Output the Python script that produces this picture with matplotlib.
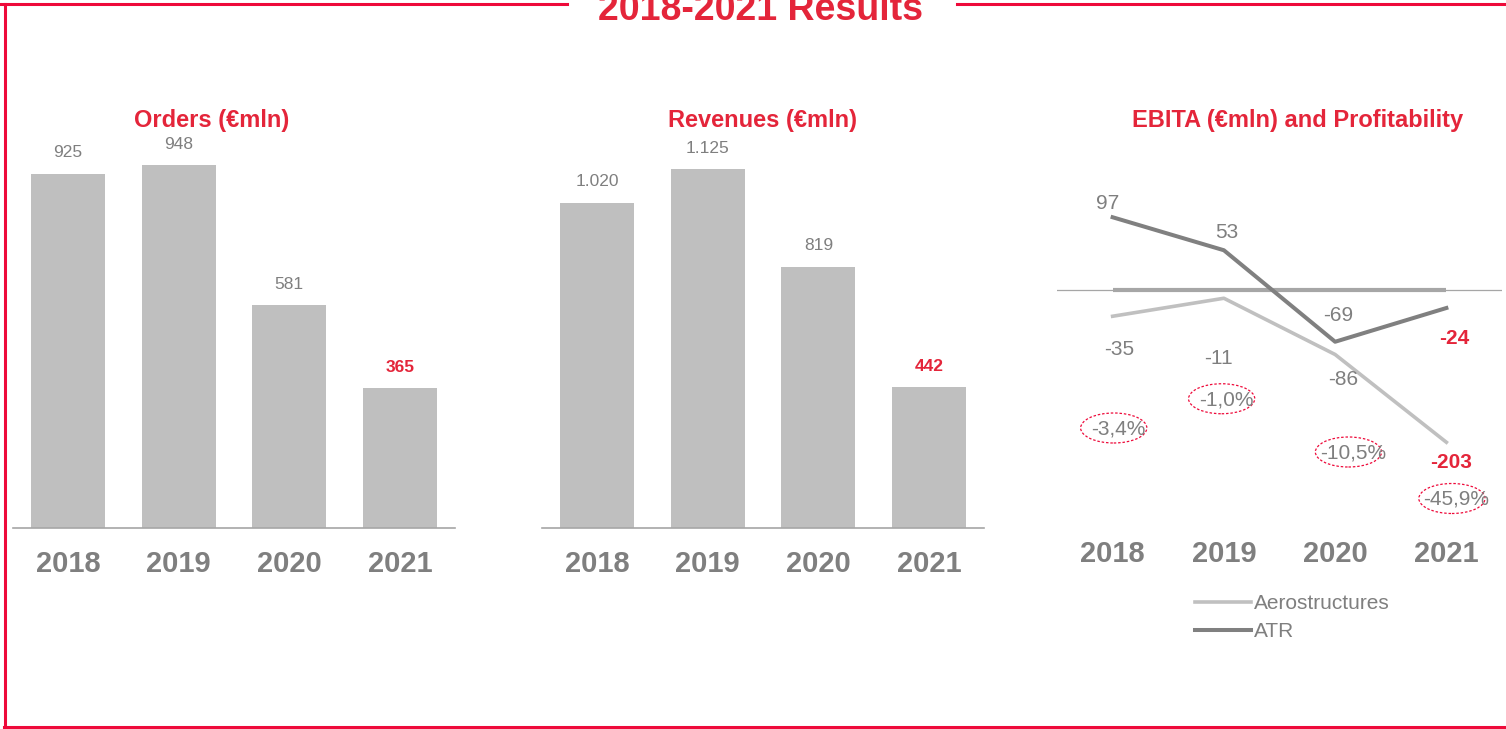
import matplotlib
matplotlib.use("Agg")
import matplotlib.pyplot as plt
from matplotlib.lines import Line2D
from matplotlib.patches import Ellipse

plt.rcParams['font.family'] = ['Liberation Sans', 'DejaVu Sans']

years = ['2018', '2019', '2020', '2021']
orders = [925, 948, 581, 365]
revenues = [1020, 1125, 819, 442]
revenue_labels = ['1.020', '1.125', '819', '442']
ebita_aero = [-35, -11, -86, -203]
ebita_atr = [97, 53, -69, -24]
profitability = ['-3,4%', '-1,0%', '-10,5%', '-45,9%']

RED = '#e4253a'
BORDER = '#ee0a3a'
GRAY_TXT = '#7f7f7f'
BAR = '#bfbfbf'

W, H = 1506, 729
fig = plt.figure(figsize=(W / 100, H / 100), dpi=100)


def box(x0, y0, x1, y1):
    # pixel box (top-left origin) -> figure rect
    return [x0 / W, 1 - y1 / H, (x1 - x0) / W, (y1 - y0) / H]


def fx(x):
    return x / W


def fy(y):
    return 1 - y / H


# red frame with a gap for the title
for xs, ys in [([0, 567], [4, 4]), ([957, W], [4, 4]),
               ([4.5, 4.5], [4, 727]), ([4, W], [727, 727])]:
    fig.add_artist(Line2D([fx(v) for v in xs], [fy(v) for v in ys],
                          color=BORDER, lw=2.2, transform=fig.transFigure))
fig.text(fx(761), fy(20), '2018-2021 Results', color=RED, fontsize=27,
         fontweight='bold', ha='center', va='baseline')


def bar_panel(rect, values, labels, title, title_x, top):
    ax = fig.add_axes(box(*rect))
    idx = range(len(values))
    ax.bar(idx, values, width=0.67, color=BAR)
    ax.set_xlim(-0.5, 3.5)
    ax.set_ylim(0, top)
    for s in ['top', 'right', 'left']:
        ax.spines[s].set_visible(False)
    ax.spines['bottom'].set_color('#a6a6a6')
    ax.spines['bottom'].set_linewidth(1.2)
    ax.set_yticks([])
    ax.set_xticks(list(idx))
    ax.set_xticklabels(years, fontsize=21, fontweight='bold', color=GRAY_TXT)
    ax.tick_params(axis='x', length=0, pad=16)
    for i, (v, lab) in enumerate(zip(values, labels)):
        last = i == len(values) - 1
        ax.annotate(lab, (i, v), xytext=(0, 15), textcoords='offset points',
                    ha='center', va='center', fontsize=12.5,
                    color=RED if last else GRAY_TXT,
                    fontweight='bold' if last else 'normal')
    fig.text(fx(title_x), fy(120), title, color=RED, fontsize=17,
             fontweight='bold', ha='center', va='center')
    return ax


bar_panel((12.7, 100, 455.3, 528), orders, [str(v) for v in orders],
          'Orders (€mln)', 212, 428 / 0.383)
bar_panel((541.7, 100, 984.3, 528), revenues, revenue_labels,
          'Revenues (€mln)', 763, 428 / 0.319)

# EBITA panel
ax = fig.add_axes(box(1057, 100, 1502, 528))
idx = list(range(len(years)))
ax.set_xlim(-0.5, 3.5)
ax.set_ylim(-238 / 0.75, 190 / 0.75)
for s in ax.spines.values():
    s.set_visible(False)
ax.set_yticks([])
ax.set_xticks(idx)
ax.set_xticklabels(years, fontsize=21, fontweight='bold', color=GRAY_TXT)
ax.tick_params(axis='x', length=0, pad=9)
ax.axhline(0, color='#a6a6a6', lw=0.9, zorder=1)
ax.hlines(0, idx[0], idx[-1], color='#a6a6a6', lw=3, zorder=2)
ax.plot(idx, ebita_aero, color='#c0c0c0', lw=2.6, label='Aerostructures', zorder=3)
ax.plot(idx, ebita_atr, color='#808080', lw=2.9, label='ATR', zorder=4)

# label offsets in pixels (dx, dy downwards)
atr_off = [(-5, -14), (3, -18), (3, -26), (8, 30)]
aero_off = [(7, 33), (-5, 60), (8, 25), (5, 20)]
for i in idx:
    last = i == idx[-1]
    for vals, off in [(ebita_atr, atr_off), (ebita_aero, aero_off)]:
        dx, dy = off[i]
        ax.annotate(str(vals[i]), (i, vals[i]), xytext=(dx * 0.72, -dy * 0.72),
                    textcoords='offset points', ha='center', va='center',
                    fontsize=15, color=RED if last else GRAY_TXT,
                    fontweight='bold' if last else 'normal')

# profitability bubbles (centres in data units)
pct_pos = [(0.01, -184), (0.98, -145), (2.12, -216), (3.05, -278)]
for (px, py), txt in zip(pct_pos, profitability):
    ax.add_patch(Ellipse((px, py), 0.595, 40, fill=False, edgecolor=BORDER,
                         lw=0.9, linestyle=(0, (2, 1.5)), zorder=5))
    ax.text(px + 0.04, py - 1, txt, ha='center', va='center', fontsize=15,
            color=GRAY_TXT, zorder=6)

leg = ax.legend(loc='upper left', bbox_to_anchor=(fx(1195), fy(594)),
                bbox_transform=fig.transFigure, frameon=False, fontsize=15,
                handlelength=2.7, handletextpad=0.12, borderpad=0,
                borderaxespad=0, labelspacing=0.45)
for t in leg.get_texts():
    t.set_color(GRAY_TXT)

fig.text(fx(1298), fy(120), 'EBITA (€mln) and Profitability', color=RED,
         fontsize=17, fontweight='bold', ha='center', va='center')

fig.savefig('out.png', dpi=100)
